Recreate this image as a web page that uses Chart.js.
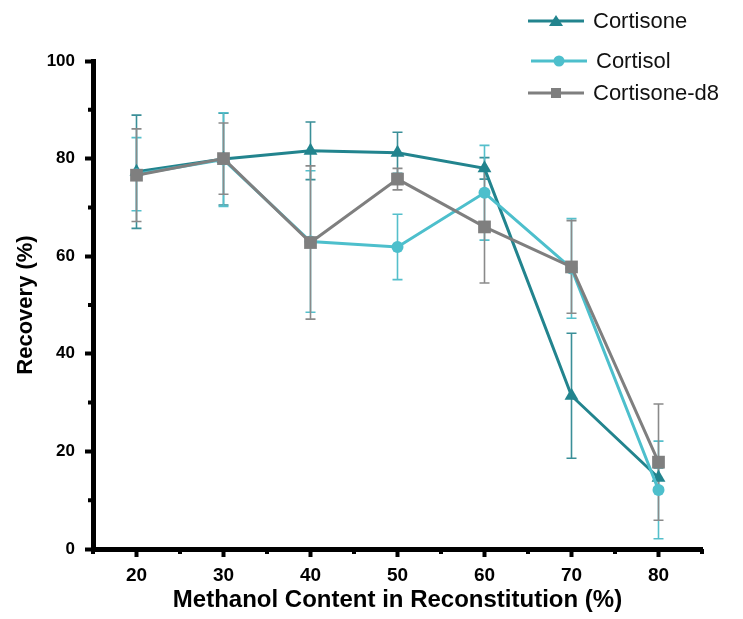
<!DOCTYPE html>
<html>
<head>
<meta charset="utf-8">
<script src="https://cdn.jsdelivr.net/npm/chart.js@4"></script>
<style>
    body { margin: 0; background: #fff; }
    .wrap { position: relative; width: 743px; height: 619px; }
    .legend { position: absolute; left: 0; top: 0; width: 743px; height: 120px; pointer-events: none; }
    .legend-item { position: absolute; display: flex; align-items: center; font-family: "Liberation Sans", Arial, sans-serif; font-size: 22px; color: #111; }
    .legend-item svg { margin-right: 9px; }
</style>
</head>
<body>
<div class="wrap">
    <canvas id="recoveryChart" width="743" height="619"></canvas>
    <div class="legend" id="legend"></div>
</div>
<script>
// Methanol content (%) used for reconstitution
const methanol = [20, 30, 40, 50, 60, 70, 80];

// Mean recovery (%) and error (SD) per analyte
const cortisone = [77.3, 79.9, 81.6, 81.2, 78.0, 31.4, 14.6];
const cortisoneErr = [11.6, 9.4, 5.9, 4.2, 2.2, 12.8, 2.0];

const cortisol = [76.8, 79.8, 63.0, 61.9, 73.0, 57.5, 12.1];
const cortisolErr = [7.5, 9.6, 14.5, 6.7, 9.7, 10.2, 10.0];

const cortisoneD8 = [76.6, 80.0, 62.8, 75.8, 66.0, 57.8, 17.8];
const cortisoneD8Err = [9.5, 7.3, 15.7, 2.2, 11.5, 9.5, 11.9];

const yTicks = [0, 20, 40, 60, 80, 100];

const FONT = '"Liberation Sans", Arial, sans-serif';

const toPoints = vals => vals.map((v, i) => ({ x: methanol[i], y: v }));

// vertical error bars with caps, drawn under the lines
const errorBars = {
    id: 'errorBars',
    beforeDatasetsDraw(chart) {
        const ctx = chart.ctx;
        const yScale = chart.scales.y;
        chart.data.datasets.forEach((ds, i) => {
            const meta = chart.getDatasetMeta(i);
            if (meta.hidden) return;
            ctx.save();
            ctx.strokeStyle = ds.errorColor;
            ctx.lineWidth = 1.6;
            meta.data.forEach((pt, j) => {
                const v = ds.data[j].y;
                const e = ds.errors[j];
                const top = yScale.getPixelForValue(v + e);
                const bot = yScale.getPixelForValue(v - e);
                ctx.beginPath();
                ctx.moveTo(pt.x, top);
                ctx.lineTo(pt.x, bot);
                ctx.moveTo(pt.x - 5, top);
                ctx.lineTo(pt.x + 5, top);
                ctx.moveTo(pt.x - 5, bot);
                ctx.lineTo(pt.x + 5, bot);
                ctx.stroke();
            });
            ctx.restore();
        });
    }
};

// short minor ticks between the labelled ones
const minorTicks = {
    id: 'minorTicks',
    afterDraw(chart) {
        const { ctx, scales: { x, y }, chartArea } = chart;
        ctx.save();
        ctx.strokeStyle = '#000';
        ctx.lineWidth = 4;
        ctx.beginPath();
        for (let v = 10; v < 100; v += 20) {
            const py = y.getPixelForValue(v);
            ctx.moveTo(chartArea.left, py);
            ctx.lineTo(chartArea.left - 5, py);
        }
        for (let v = 15; v <= 85; v += 10) {
            const px = x.getPixelForValue(v);
            ctx.moveTo(px, chartArea.bottom);
            ctx.lineTo(px, chartArea.bottom + 5);
        }
        ctx.stroke();
        ctx.restore();
    }
};

const datasets = [
    {
        label: 'Cortisone',
        data: toPoints(cortisone),
        errors: cortisoneErr,
        borderColor: '#22848e',
        backgroundColor: '#22848e',
        errorColor: '#3a8f98',
        pointStyle: 'triangle',
        pointRadius: 8,
        order: 3
    },
    {
        label: 'Cortisol',
        data: toPoints(cortisol),
        errors: cortisolErr,
        borderColor: '#4dbfcc',
        backgroundColor: '#4dbfcc',
        errorColor: '#55bfcb',
        pointStyle: 'circle',
        pointRadius: 6,
        order: 2
    },
    {
        label: 'Cortisone-d8',
        data: toPoints(cortisoneD8),
        errors: cortisoneD8Err,
        borderColor: '#7f7f7f',
        backgroundColor: '#7f7f7f',
        errorColor: '#8a8a8a',
        pointStyle: 'rect',
        pointRadius: 9,
        order: 1
    }
];

datasets.forEach(ds => {
    ds.borderWidth = 3;
    ds.pointBorderWidth = 0;
    ds.tension = 0;
    ds.fill = false;
});

const ctx = document.getElementById('recoveryChart');

new Chart(ctx, {
    type: 'line',
    data: { datasets },
    options: {
        responsive: false,
        animation: false,
        layout: { padding: { top: 61, right: 41, left: 0, bottom: 0 } },
        plugins: {
            legend: { display: false },
            tooltip: { enabled: false }
        },
        scales: {
            x: {
                type: 'linear',
                min: 15,
                max: 85,
                afterFit: scale => { scale.height = 70; },
                afterBuildTicks: scale => {
                    scale.ticks = methanol.map(v => ({ value: v }));
                },
                ticks: {
                    color: '#000',
                    padding: 7,
                    font: { family: FONT, size: 19, weight: 'bold' }
                },
                grid: {
                    display: true,
                    drawOnChartArea: false,
                    tickLength: 8,
                    tickWidth: 4,
                    tickColor: '#000'
                },
                border: { display: true, color: '#000', width: 5 },
                title: {
                    display: true,
                    text: 'Methanol Content in Reconstitution (%)',
                    color: '#000',
                    padding: { top: 0, bottom: 4 },
                    font: { family: FONT, size: 24, weight: 'bold' }
                }
            },
            y: {
                min: 0,
                max: 100,
                afterFit: scale => { scale.width = 93; },
                afterBuildTicks: scale => {
                    scale.ticks = yTicks.map(v => ({ value: v }));
                },
                ticks: {
                    color: '#000',
                    padding: 10,
                    font: { family: FONT, size: 17, weight: 'bold' }
                },
                grid: {
                    display: true,
                    drawOnChartArea: false,
                    tickLength: 8,
                    tickWidth: 4,
                    tickColor: '#000'
                },
                border: { display: true, color: '#000', width: 5 },
                title: {
                    display: true,
                    text: 'Recovery (%)',
                    color: '#000',
                    padding: { top: 13, bottom: 0 },
                    font: { family: FONT, size: 22, weight: 'bold' }
                }
            }
        }
    },
    plugins: [errorBars, minorTicks]
});

/* HTML legend: line + marker, then label */
const legendPos = [
    { top: 21, left: 528 },
    { top: 61, left: 531 },
    { top: 93, left: 528 }
];

function markerSvg(ds) {
    const c = ds.borderColor;
    let mark = '';
    if (ds.pointStyle === 'triangle') {
        mark = `<polygon points="28,2 35,13 21,13" fill="${c}"/>`;
    } else if (ds.pointStyle === 'circle') {
        mark = `<circle cx="28" cy="8" r="5.5" fill="${c}"/>`;
    } else {
        mark = `<rect x="23" y="3" width="10" height="10" fill="${c}"/>`;
    }
    return `<svg width="56" height="16" viewBox="0 0 56 16">
        <line x1="0" y1="8" x2="56" y2="8" stroke="${c}" stroke-width="3"/>${mark}</svg>`;
}

const legend = document.getElementById('legend');
datasets.forEach((ds, i) => {
    const item = document.createElement('div');
    item.className = 'legend-item';
    item.style.left = legendPos[i].left + 'px';
    item.style.top = (legendPos[i].top - 13) + 'px';
    item.innerHTML = markerSvg(ds) + '<span>' + ds.label + '</span>';
    legend.appendChild(item);
});
</script>
</body>
</html>
